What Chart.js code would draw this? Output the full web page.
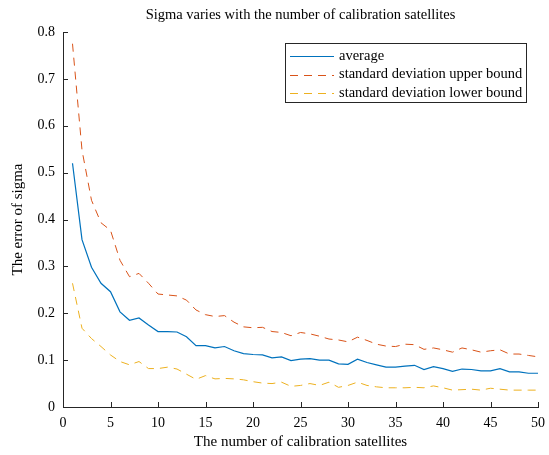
<!DOCTYPE html>
<html>
<head>
<meta charset="utf-8">
<script src="https://cdn.jsdelivr.net/npm/chart.js@4/dist/chart.umd.min.js"></script>
<style>
html,body{margin:0;padding:0;background:#fff;}
#wrap{width:549px;height:455px;}
</style>
</head>
<body>
<div id="wrap"><canvas id="c" width="549" height="455"></canvas></div>
<script>
const satellites = [1,2,3,4,5,6,7,8,9,10,11,12,13,14,15,16,17,18,19,20,21,22,23,24,25,26,27,28,29,30,31,32,33,34,35,36,37,38,39,40,41,42,43,44,45,46,47,48,49,50];
const averageErr = [0.520,0.357,0.298,0.264,0.246,0.203,0.185,0.190,0.175,0.161,0.161,0.160,0.150,0.131,0.131,0.126,0.129,0.120,0.114,0.112,0.111,0.105,0.107,0.099,0.102,0.103,0.100,0.100,0.092,0.091,0.102,0.095,0.090,0.085,0.085,0.087,0.089,0.080,0.086,0.082,0.076,0.081,0.080,0.077,0.077,0.082,0.075,0.075,0.072,0.072];
const upperBound = [0.775,0.548,0.441,0.393,0.377,0.313,0.278,0.285,0.264,0.241,0.239,0.237,0.228,0.207,0.197,0.193,0.195,0.181,0.171,0.169,0.170,0.161,0.159,0.152,0.159,0.156,0.151,0.145,0.143,0.139,0.149,0.142,0.134,0.130,0.129,0.134,0.133,0.123,0.126,0.122,0.117,0.126,0.122,0.117,0.120,0.122,0.113,0.113,0.110,0.107];
const lowerBound = [0.264,0.168,0.146,0.129,0.111,0.097,0.090,0.097,0.082,0.082,0.085,0.081,0.070,0.059,0.067,0.060,0.061,0.060,0.058,0.054,0.051,0.050,0.053,0.044,0.046,0.050,0.046,0.053,0.042,0.046,0.053,0.046,0.043,0.041,0.041,0.041,0.042,0.041,0.045,0.041,0.036,0.037,0.038,0.036,0.040,0.038,0.036,0.036,0.036,0.036];
const xTickValues = [0,5,10,15,20,25,30,35,40,45,50];
const xTickLabels = ['0','5','10','15','20','25','30','35','40','45','50'];
const yTickValues = [0,0.1,0.2,0.3,0.4,0.5,0.6,0.7,0.8];
const yTickLabels = ['0','0.1','0.2','0.3','0.4','0.5','0.6','0.7','0.8'];
const seriesNames = ['average','standard deviation upper bound','standard deviation lower bound'];
const titleText = 'Sigma varies with the number of calibration satellites';
const xTitleText = 'The number of calibration satellites';
const yTitleText = 'The error of sigma';

const FONT = "'Liberation Serif', 'Times New Roman', serif";
const AXC = '#262626';

function toPts(arr){ return satellites.map((x,i)=>({x:x,y:arr[i]})); }

const decor = {
  id:'decor',
  afterDraw(chart){
    const ctx = chart.ctx, ca = chart.chartArea;
    const xs = chart.scales.x, ys = chart.scales.y;
    ctx.save();
    // inward ticks
    ctx.strokeStyle = AXC; ctx.lineWidth = 1;
    ctx.beginPath();
    xTickValues.forEach(v=>{
      const p = Math.round(xs.getPixelForValue(v))+0.5;
      ctx.moveTo(p, ca.bottom); ctx.lineTo(p, ca.bottom-5);
    });
    yTickValues.forEach(v=>{
      const p = Math.round(ys.getPixelForValue(v))+0.5;
      ctx.moveTo(ca.left, p); ctx.lineTo(ca.left+5, p);
    });
    ctx.stroke();
    // titles
    ctx.fillStyle = '#000';
    ctx.textAlign = 'center'; ctx.textBaseline = 'middle';
    ctx.font = '14.5px ' + FONT;
    ctx.fillText(titleText, (ca.left+ca.right)/2, 15);
    ctx.font = '15px ' + FONT;
    ctx.fillText(xTitleText, (ca.left+ca.right)/2, 442);
    ctx.save();
    ctx.translate(18, (ca.top+ca.bottom)/2);
    ctx.rotate(-Math.PI/2);
    ctx.fillText(yTitleText, 0, 0);
    ctx.restore();
    // legend
    const bx = 285.5, by = 43.5, bw = 241, bh = 59;
    ctx.fillStyle = '#fff';
    ctx.fillRect(bx, by, bw, bh);
    ctx.strokeStyle = AXC; ctx.lineWidth = 1;
    ctx.strokeRect(bx, by, bw, bh);
    ctx.font = '14.5px ' + FONT;
    ctx.textAlign = 'left';
    chart.data.datasets.forEach((ds,i)=>{
      const yy = 56 + i*18.5;
      ctx.strokeStyle = ds.borderColor;
      ctx.lineWidth = 1;
      ctx.setLineDash(ds.borderDash || []);
      ctx.beginPath(); ctx.moveTo(290, Math.round(yy)+0.5); ctx.lineTo(334, Math.round(yy)+0.5); ctx.stroke();
      ctx.setLineDash([]);
      ctx.fillStyle = '#000';
      ctx.fillText(ds.label, 339, yy);
    });
    ctx.restore();
  }
};

new Chart(document.getElementById('c'), {
  type:'line',
  data:{
    datasets:[
      {label:seriesNames[0], data:toPts(averageErr), borderColor:'#0072BD', borderWidth:1.2, pointRadius:0, fill:false, tension:0},
      {label:seriesNames[1], data:toPts(upperBound), borderColor:'#D95319', borderWidth:1, borderDash:[8,6], pointRadius:0, fill:false, tension:0},
      {label:seriesNames[2], data:toPts(lowerBound), borderColor:'#EDB120', borderWidth:1, borderDash:[8,6], pointRadius:0, fill:false, tension:0}
    ]
  },
  options:{
    responsive:false, animation:false, events:[],
    layout:{padding:{top:32, right:11, left:0, bottom:0}},
    plugins:{legend:{display:false}, tooltip:{enabled:false}, title:{display:false}},
    scales:{
      x:{type:'linear', min:0, max:50,
        afterFit:s=>{s.height=48; s.paddingLeft=0; s.paddingRight=0;},
        afterBuildTicks:s=>{s.ticks = xTickValues.map(v=>({value:v}));},
        grid:{display:true, drawOnChartArea:false, drawTicks:false},
        border:{display:true, color:AXC, width:1},
        ticks:{padding:8, color:'#000', font:{family:FONT, size:14}, maxRotation:0, autoSkip:false,
          callback:(v)=>{const i=xTickValues.indexOf(v); return i>=0?xTickLabels[i]:'';}}
      },
      y:{type:'linear', min:0, max:0.8,
        afterFit:s=>{s.width=63; s.paddingTop=0; s.paddingBottom=0;},
        afterBuildTicks:s=>{s.ticks = yTickValues.map(v=>({value:v}));},
        grid:{display:true, drawOnChartArea:false, drawTicks:false},
        border:{display:true, color:AXC, width:1},
        ticks:{padding:8, color:'#000', font:{family:FONT, size:14}, autoSkip:false,
          callback:(v)=>{const i=yTickValues.findIndex(t=>Math.abs(t-v)<1e-9); return i>=0?yTickLabels[i]:'';}}
      }
    }
  },
  plugins:[decor]
});
</script>
</body>
</html>
